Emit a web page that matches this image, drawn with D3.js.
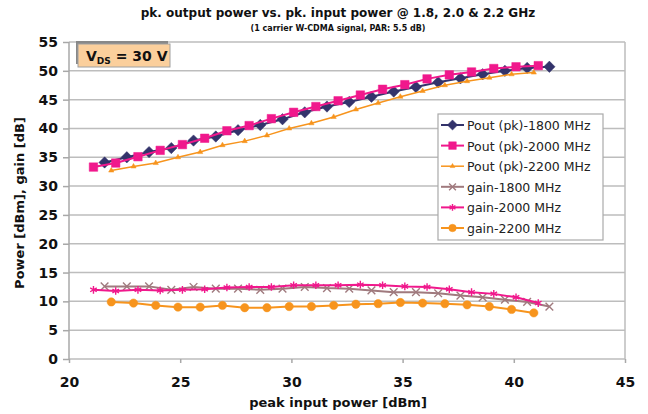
<!DOCTYPE html>
<html>
<head>
<meta charset="utf-8">
<script src="https://cdn.jsdelivr.net/npm/d3@7"></script>
<style>
  body { margin: 0; background: #fff; }
  text { font-family: 'DejaVu Sans', sans-serif; fill: #111; }
  .axis-title { font-weight: bold; font-size: 12px; }
  .axis-subtitle { font-weight: bold; font-size: 8px; }
  .axis-label { font-weight: bold; font-size: 13px; }
  .tick text { font-weight: bold; font-size: 14px; fill: #111; }
  .legend text { font-size: 12.5px; fill: #222; }
</style>
</head>
<body>
<div id="chart"></div>
<script>
// peak input power (dBm) for each sweep
var pin1800 = [21.6, 22.6, 23.6, 24.6, 25.6, 26.6, 27.6, 28.6, 29.6, 30.6, 31.6,
               32.6, 33.6, 34.6, 35.6, 36.6, 37.6, 38.6, 39.6, 40.6, 41.6];
var pin2000 = [21.1, 22.1, 23.1, 24.1, 25.1, 26.1, 27.1, 28.1, 29.1, 30.1, 31.1,
               32.1, 33.1, 34.1, 35.1, 36.1, 37.1, 38.1, 39.1, 40.1, 41.1];
var pin2200 = [21.9, 22.9, 23.9, 24.9, 25.9, 26.9, 27.9, 28.9, 29.9, 30.9,
               31.9, 32.9, 33.9, 34.9, 35.9, 36.9, 37.9, 38.9, 39.9, 40.9];

// peak output power (dBm)
var pout1800 = [34.1, 35.0, 35.9, 36.6, 37.9, 38.6, 39.7, 40.6, 41.6, 42.8, 43.8,
                44.6, 45.5, 46.4, 47.2, 48.0, 48.7, 49.4, 50.0, 50.5, 50.7];
var pout2000 = [33.3, 34.0, 35.1, 36.2, 37.2, 38.3, 39.6, 40.5, 41.7, 42.8, 43.8,
                44.8, 45.8, 46.8, 47.6, 48.6, 49.3, 49.8, 50.4, 50.7, 50.9];
var pout2200 = [32.7, 33.4, 34.0, 35.0, 35.9, 37.1, 37.8, 38.8, 40.0, 40.9,
                42.0, 43.3, 44.4, 45.5, 46.5, 47.5, 48.2, 48.8, 49.4, 49.7];

// gain (dB)
var gain1800 = [12.6, 12.6, 12.6, 12.0, 12.5, 12.2, 12.2, 12.0, 12.2, 12.5, 12.3,
                12.2, 11.9, 11.6, 11.6, 11.4, 11.0, 10.7, 10.3, 9.9, 9.1];
var gain2000 = [12.0, 11.8, 12.0, 11.9, 12.0, 12.1, 12.4, 12.5, 12.5, 12.8, 12.8,
                12.8, 12.9, 12.8, 12.6, 12.5, 12.1, 11.6, 11.3, 10.7, 9.7];
var gain2200 = [9.9, 9.7, 9.3, 9.0, 9.0, 9.3, 8.9, 8.9, 9.1, 9.1,
                9.3, 9.5, 9.6, 9.8, 9.7, 9.6, 9.4, 9.1, 8.6, 8.0];

var seriesNames = ['Pout (pk)-1800 MHz', 'Pout (pk)-2000 MHz', 'Pout (pk)-2200 MHz',
                   'gain-1800 MHz', 'gain-2000 MHz', 'gain-2200 MHz'];
var xTicks = [20, 25, 30, 35, 40, 45];
var yTicks = [0, 5, 10, 15, 20, 25, 30, 35, 40, 45, 50, 55];

/**
 * PowerChart
 * @param _parentElement -- id of the element to draw into
 */
PowerChart = function(_parentElement) {
  this.parentElement = _parentElement;
  this.series = [];
  this.initVisualization();
}

PowerChart.prototype.initVisualization = function() {
  var vis = this;

  vis.margin = { top: 42, right: 23, bottom: 55, left: 69 };
  vis.width = 648 - vis.margin.left - vis.margin.right;
  vis.height = 414 - vis.margin.top - vis.margin.bottom;

  vis.root = d3.select('#' + vis.parentElement)
               .append('svg')
               .attr('width', 648)
               .attr('height', 414);

  vis.svg = vis.root.append('g')
               .attr('transform', 'translate(' + vis.margin.left + ',' + vis.margin.top + ')');

  vis.x = d3.scaleLinear().domain([20, 45]).range([0, vis.width]);
  vis.y = d3.scaleLinear().domain([0, 55]).range([vis.height, 0]);

  // Titles
  vis.root.append('text')
          .attr('class', 'axis-title')
          .attr('x', 338).attr('y', 17)
          .attr('text-anchor', 'middle')
          .text('pk. output power vs. pk. input power @ 1.8, 2.0 & 2.2 GHz');

  vis.root.append('text')
          .attr('class', 'axis-subtitle')
          .attr('x', 338).attr('y', 31)
          .attr('text-anchor', 'middle')
          .text('(1 carrier W-CDMA signal, PAR: 5.5 dB)');

  // Grid
  vis.svg.append('g')
         .selectAll('line')
         .data(yTicks)
         .enter()
         .append('line')
         .attr('x1', 0).attr('x2', vis.width)
         .attr('y1', function(d) { return vis.y(d); })
         .attr('y2', function(d) { return vis.y(d); })
         .attr('stroke', '#bdbdbd')
         .attr('stroke-width', 1.5);

  vis.svg.append('line')
         .attr('x1', vis.width).attr('x2', vis.width)
         .attr('y1', 0).attr('y2', vis.height)
         .attr('stroke', '#bdbdbd')
         .attr('stroke-width', 1.5);

  // Axes
  vis.xAxis = d3.axisBottom(vis.x).tickValues(xTicks).tickSize(4).tickPadding(14);
  vis.yAxis = d3.axisLeft(vis.y).tickValues(yTicks).tickSize(6).tickPadding(5);

  vis.svg.append('g')
         .attr('class', 'x-axis axis')
         .attr('transform', 'translate(0,' + vis.height + ')')
         .call(vis.xAxis);

  vis.svg.append('g')
         .attr('class', 'y-axis axis')
         .call(vis.yAxis);

  vis.svg.selectAll('.axis path, .axis line')
         .attr('stroke', '#a8a8a8')
         .attr('stroke-width', 1.5);
  vis.svg.selectAll('.axis .domain').attr('d', null);
  vis.svg.select('.y-axis').append('line')
         .attr('y1', 0).attr('y2', vis.height)
         .attr('stroke', '#a8a8a8').attr('stroke-width', 1.5);

  // Axis labels
  vis.root.append('text')
          .attr('class', 'axis-label')
          .attr('x', 338).attr('y', 407)
          .attr('text-anchor', 'middle')
          .text('peak input power [dBm]');

  vis.root.append('text')
          .attr('class', 'axis-label')
          .attr('transform', 'translate(24,' + 203 + ') rotate(-90)')
          .attr('text-anchor', 'middle')
          .text('Power [dBm], gain [dB]');

  // Series styles
  var zip = function(xs, ys) {
    return xs.map(function(v, i) { return { x: v, y: ys[i] }; });
  };

  vis.series = [
    { name: seriesNames[0], values: zip(pin1800, pout1800), color: '#33336b', width: 2,
      symbol: d3.symbolDiamond2 || d3.symbolDiamond, size: 82, fill: true },
    { name: seriesNames[1], values: zip(pin2000, pout2000), color: '#f0188c', width: 2,
      symbol: d3.symbolSquare, size: 72, fill: true },
    { name: seriesNames[2], values: zip(pin2200, pout2200), color: '#f7941d', width: 1.5,
      symbol: d3.symbolTriangle, size: 12, fill: true },
    { name: seriesNames[3], values: zip(pin1800, gain1800), color: '#a07a7e', width: 2,
      symbol: d3.symbolTimes, size: 40, fill: false },
    { name: seriesNames[4], values: zip(pin2000, gain2000), color: '#f0188c', width: 2,
      symbol: d3.symbolAsterisk, size: 40, fill: false },
    { name: seriesNames[5], values: zip(pin2200, gain2200), color: '#f7941d', width: 2,
      symbol: d3.symbolCircle, size: 55, fill: true }
  ];

  vis.line = d3.line()
               .x(function(d) { return vis.x(d.x); })
               .y(function(d) { return vis.y(d.y); });

  vis.drawBadge();
  vis.updateVisualization();
  vis.drawLegend();
}

/**
 * V_DS label box
 */
PowerChart.prototype.drawBadge = function() {
  var vis = this;
  var g = vis.root.append('g').attr('transform', 'translate(78,44)');

  g.append('rect')
   .attr('x', -2).attr('y', -3)
   .attr('width', 92).attr('height', 23)
   .attr('fill', '#888');

  g.append('rect')
   .attr('x', 0).attr('y', 0)
   .attr('width', 92).attr('height', 23)
   .attr('fill', '#fbcf9c')
   .attr('stroke', '#a0a0a0')
   .attr('stroke-width', 1);

  var t = g.append('text')
           .attr('x', 8).attr('y', 17)
           .attr('font-weight', 'bold')
           .attr('font-size', 14);
  t.append('tspan').text('V');
  t.append('tspan').attr('font-size', 9).attr('dy', 3).text('DS');
  t.append('tspan').attr('dy', -3).text(' = 30 V');
}

PowerChart.prototype.drawMarkers = function(g, s, scale) {
  var sym = d3.symbol().type(s.symbol).size(s.size * (scale || 1));
  g.attr('d', sym)
   .attr('fill', s.fill ? s.color : 'none')
   .attr('stroke', s.color)
   .attr('stroke-width', s.fill ? 0.5 : 1.4);
}

PowerChart.prototype.updateVisualization = function() {
  var vis = this;

  var order = [3, 4, 5, 0, 1, 2];
  order.forEach(function(k) {
    var s = vis.series[k];
    var g = vis.svg.append('g').attr('class', 'series');

    g.append('path')
     .datum(s.values)
     .attr('fill', 'none')
     .attr('stroke', s.color)
     .attr('stroke-width', s.width)
     .attr('d', vis.line);

    g.selectAll('path.marker')
     .data(s.values)
     .enter()
     .append('path')
     .attr('class', 'marker')
     .attr('transform', function(d) {
       return 'translate(' + vis.x(d.x) + ',' + vis.y(d.y) + ')';
     })
     .call(function(sel) { vis.drawMarkers(sel, s); });
  });
}

PowerChart.prototype.drawLegend = function() {
  var vis = this;
  var legend = vis.root.append('g')
                  .attr('class', 'legend')
                  .attr('transform', 'translate(438,114)');

  legend.append('rect')
        .attr('width', 165).attr('height', 126)
        .attr('fill', '#fff')
        .attr('stroke', '#aaa')
        .attr('stroke-width', 1.2);

  var item = legend.selectAll('g.item')
                   .data(vis.series)
                   .enter()
                   .append('g')
                   .attr('class', 'item')
                   .attr('transform', function(d, i) {
                     return 'translate(0,' + (11 + i * 20.6) + ')';
                   });

  item.append('line')
      .attr('x1', 3).attr('x2', 26)
      .attr('stroke', function(d) { return d.color; })
      .attr('stroke-width', function(d) { return d.width; });

  item.append('path')
      .attr('transform', 'translate(14.5,0)')
      .each(function(d) { vis.drawMarkers(d3.select(this), d, 0.8); });

  item.append('text')
      .attr('x', 29).attr('y', 5)
      .text(function(d) { return d.name; });
}

new PowerChart('chart');
</script>
</body>
</html>
